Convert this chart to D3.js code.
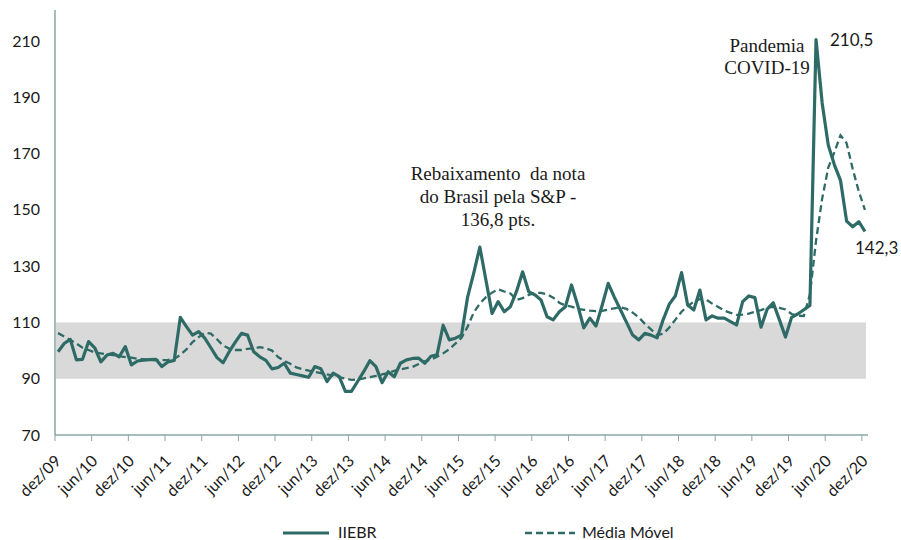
<!DOCTYPE html>
<html>
<head>
<meta charset="utf-8">
<script src="https://cdn.jsdelivr.net/npm/d3@7"></script>
<style>
  body { margin: 0; background: #fff; }
  svg { display: block; }
  .tick-label { font-family: Lato, "Noto Sans", sans-serif; font-size: 16px; fill: #1a1a1a; }
  .note { font-family: "Liberation Serif", "DejaVu Serif", serif; font-size: 19px; fill: #1a1a1a; white-space: pre; }
</style>
</head>
<body>
<svg width="901" height="540"></svg>
<script>
const months = ["jan","fev","mar","abr","mai","jun","jul","ago","set","out","nov","dez"];

const tickLabels = ["dez/09","jun/10","dez/10","jun/11","dez/11","jun/12","dez/12","jun/13",
  "dez/13","jun/14","dez/14","jun/15","dez/15","jun/16","dez/16","jun/17","dez/17","jun/18",
  "dez/18","jun/19","dez/19","jun/20","dez/20"];

const yTicks = [70, 90, 110, 130, 150, 170, 190, 210];

// IIEBR, dez/09 .. dez/20 (mensal)
const iiebr = [
  99.6,102.5,104,96.7,96.9,103.2,101,96,98.4,99,97.8,101.4,
  94.9,96.3,96.6,96.8,96.9,94.3,96,96.5,111.8,108.5,105.5,106.7,
  104.4,101,97.5,95.7,99.6,103,106.1,105.5,99.6,97.8,96.5,93.5,
  94,95.5,92,91.5,91,90.5,94.3,93.5,89,92,90.7,85.5,
  85.5,89,92.5,96.4,94.3,88.6,92.5,90.7,95.5,96.7,97.2,97.3,
  95.5,98,98.5,109,103.8,104.4,105.5,119,127.5,136.8,125,113.2,
  117.4,113.8,115.6,121,128,120.9,119.8,118,112,110.9,113.8,115.6,
  123.3,116.2,108.1,111.5,108.7,116,123.9,119,114.5,110,105.5,103.8,
  106.1,105.5,104.5,111,116.5,119.5,127.7,116.2,114.4,121.5,110.9,112.3,
  111.5,111.5,110.3,109.1,117.4,119.4,118.8,108.3,114.7,117,111,104.8,
  111.8,113,114.5,116,210.5,188,173,166,160.5,146,144,145.8,
  142.3
];

const mediaMovel = [
  106.2,105,103.8,102.5,101,100.2,99.3,99,98.6,98.4,98,97.7,
  97.5,97.1,96.9,96.8,96.6,96.6,96.7,97,98.5,100.4,103,104.8,
  106.3,106,104,101.8,100.7,100.2,100.2,100.6,100.8,101.2,100.8,100,
  97.7,96.3,95.3,94,93.4,92.9,92.4,92,91.5,91.1,90.6,90,
  89.6,89.7,90.1,90.6,91,91.5,92,92.8,93.3,93.8,94.2,95.2,
  96.2,96.8,97.8,99,100.5,102.5,104.5,108.5,113.5,116.7,119,120.6,
  121.8,121,120.3,118,118.6,119.8,120.5,120.5,120,118.8,117,116,
  115.6,114.9,114.5,114.2,114,114.1,114.6,115,115.4,114.8,113.5,111.8,
  109.5,107.5,105.5,106,108.2,111,113.8,115.8,117.4,118.3,118.2,116.7,
  115.5,114.2,113.4,112.7,112.8,113.1,113.8,114.4,115.2,115.5,115.2,114.6,
  113,112.4,112.3,120,139,154,165,170.5,176.5,173.7,164.5,156.5,
  150
];

const bandLow = 90, bandHigh = 110;

const categories = [];
for (let yr = 9; yr <= 20; yr++) {
  months.forEach((m, i) => {
    if (yr === 9 && i < 11) return;
    categories.push(m + "/" + String(yr).padStart(2, "0"));
  });
}

const teal = "#2f6b66";
const svg = d3.select("svg");

const x = d3.scaleBand().domain(categories).range([55, 868]);
const px = c => x(c) + x.bandwidth() / 2;
const y = d3.scaleLinear().domain([70, 210]).range([435, 41]);

// faixa cinza
svg.append("rect")
  .attr("x", 56)
  .attr("y", y(bandHigh))
  .attr("width", 866 - 56)
  .attr("height", y(bandLow) - y(bandHigh))
  .attr("fill", "#d9d9d9");

// eixo y
svg.append("line")
  .attr("x1", 55).attr("x2", 55)
  .attr("y1", 10).attr("y2", 435)
  .attr("stroke", "#4c7c79").attr("stroke-width", 1);

svg.append("g")
  .attr("transform", "translate(55,0)")
  .call(d3.axisLeft(y).tickValues(yTicks).tickSize(0).tickPadding(15))
  .call(g => g.select(".domain").remove())
  .selectAll("text")
  .attr("class", "tick-label")
  .attr("font-family", null).attr("font-size", null);

// eixo x
svg.append("line")
  .attr("x1", 55).attr("x2", 868)
  .attr("y1", 435).attr("y2", 435)
  .attr("stroke", "#4c7c79").attr("stroke-width", 1);

const xTicks = svg.append("g")
  .selectAll("g")
  .data(tickLabels)
  .enter()
  .append("g")
  .attr("transform", d => `translate(${x(d)},435)`);

xTicks.append("line")
  .attr("y1", 0).attr("y2", 6)
  .attr("stroke", "#8aa5a3");

xTicks.append("text")
  .attr("class", "tick-label")
  .attr("text-anchor", "end")
  .attr("transform", "translate(7,27) rotate(-45)")
  .text(d => d);

// linhas
const line = data => d3.line()
  .x((d, i) => px(categories[i]))
  .y(d => y(d))(data);

svg.append("path")
  .attr("d", line(mediaMovel))
  .attr("fill", "none")
  .attr("stroke", teal)
  .attr("stroke-width", 2.3)
  .attr("stroke-dasharray", "7,4");

svg.append("path")
  .attr("d", line(iiebr))
  .attr("fill", "none")
  .attr("stroke", teal)
  .attr("stroke-width", 3.2)
  .attr("stroke-linejoin", "round");

// anotações
const note = svg.append("text").attr("class", "note").attr("text-anchor", "middle");
note.append("tspan").attr("x", 498).attr("y", 180).text("Rebaixamento  da nota");
note.append("tspan").attr("x", 498).attr("y", 203).text("do Brasil pela S&P -");
note.append("tspan").attr("x", 498).attr("y", 226).text("136,8 pts.");

const covid = svg.append("text").attr("class", "note").attr("text-anchor", "middle");
covid.append("tspan").attr("x", 767).attr("y", 52).text("Pandemia");
covid.append("tspan").attr("x", 767).attr("y", 74).text("COVID-19");

svg.append("text").attr("class", "tick-label").style("font-size", "17px")
  .attr("x", 830).attr("y", 46).text("210,5");
svg.append("text").attr("class", "tick-label").style("font-size", "17px")
  .attr("x", 855).attr("y", 254).text("142,3");

// legenda
svg.append("line")
  .attr("x1", 283).attr("x2", 329).attr("y1", 533).attr("y2", 533)
  .attr("stroke", teal).attr("stroke-width", 3.2);
svg.append("text").attr("class", "tick-label")
  .attr("x", 338).attr("y", 538).text("IIEBR");

svg.append("line")
  .attr("x1", 525).attr("x2", 575).attr("y1", 533).attr("y2", 533)
  .attr("stroke", teal).attr("stroke-width", 2.3)
  .attr("stroke-dasharray", "7,4");
svg.append("text").attr("class", "tick-label")
  .attr("x", 582).attr("y", 538).text("Média Móvel");
</script>
</body>
</html>
